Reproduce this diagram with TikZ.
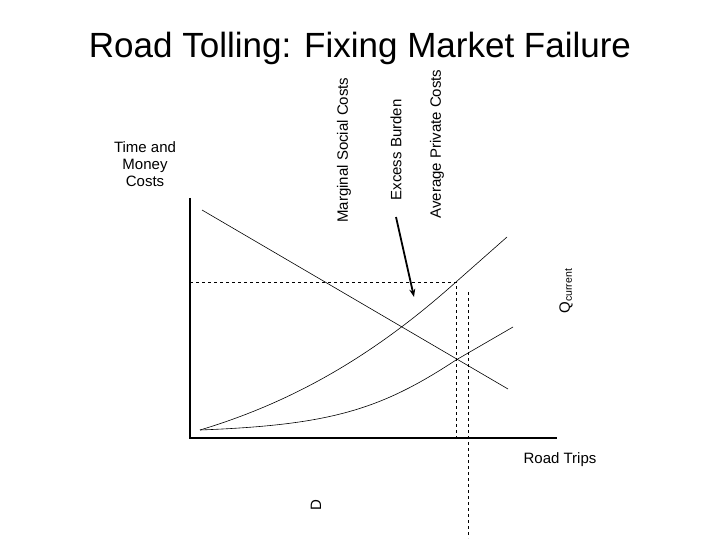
\documentclass[tikz,border=0pt]{standalone}
\usepackage{fontspec}
\setmainfont{Liberation Sans}
\usetikzlibrary{arrows.meta}
\begin{document}
\begin{tikzpicture}[x=1pt,y=-1pt,
 lab/.style={font=\fontsize{15}{17}\selectfont,inner sep=0},
 rlab/.style={lab,rotate=90},
 curve/.style={line width=0.6pt},
 dashln/.style={dashed,line width=0.6pt},
 axis/.style={line width=2.2pt}]
\useasboundingbox (0,0) rectangle (720,540);
\node[font=\fontsize{35}{40}\selectfont,inner sep=0] (title) at (360,48) {Road Tolling: Fixing Market Failure};
\node[lab,align=center] (tm) at (145,164) {Time and\\Money\\Costs};
\node[rlab] (msc) at (344,150) {Marginal Social Costs};
\node[rlab] (eb) at (396,150) {Excess Burden};
\node[rlab] (apc) at (437,144) {Average Private Costs};
\node[rlab] (q) at (566,291) {Q\textsubscript{current}};
\node[lab] (rt) at (560,460) {Road Trips};
\node[rlab] (d) at (316,505) {D};
\coordinate (o) at (190,438);
\coordinate (ytop) at (190,198);
\coordinate (xend) at (557,438);
\draw[axis] (ytop) -- (o) -- (xend);
\coordinate (d1) at (202,210); \coordinate (d2) at (508,389);
\draw[curve] (d1) -- (d2);
\coordinate (s) at (200,430);
\draw[curve] (s) .. controls (300,400) and (380,350) .. (456,282) -- (507,237);
\draw[curve] (s) .. controls (330,425) and (380,410) .. (456,360) -- (513,327);
\coordinate (h1) at (190,282); \coordinate (h2) at (456,282);
\coordinate (v1) at (456,438);
\draw[dashln] (h1) -- (h2) -- (v1);
\coordinate (w1) at (468,292); \coordinate (w2) at (468,538);
\draw[dashln] (w1) -- (w2);
\coordinate (a1) at (396,217); \coordinate (a2) at (414,297);
\draw[line width=1.8pt,-{Stealth[length=8pt]}] (a1) -- (a2);
\end{tikzpicture}
\end{document}
